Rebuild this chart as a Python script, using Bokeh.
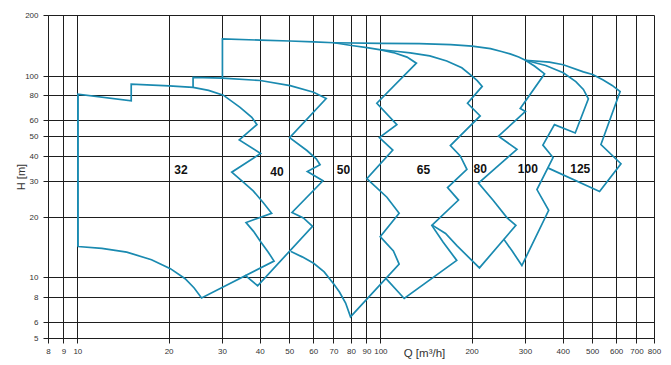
from bokeh.plotting import figure
from bokeh.models import Range1d, FixedTicker, NumeralTickFormatter, Label
from bokeh.core.properties import value
from bokeh.embed import file_html
from bokeh.resources import INLINE

# Axis ticks (log-log chart)
x_ticks = [8, 9, 10, 20, 30, 40, 50, 60, 70, 80, 90, 100, 200, 300, 400, 500, 600, 700, 800]
y_ticks = [5, 6, 8, 10, 20, 30, 40, 50, 60, 80, 100, 200]

# Pump size envelopes: Q [m3/h], H [m]
size_32_q = [10, 10, 15, 15, 20, 24, 27, 30.2, 34.3, 37.5, 39, 34.1, 40.1, 32.2, 35, 37.9, 41, 43.6,
             35.9, 38, 40, 42.5, 44.4, 25.6, 24.2, 22.6, 20.2, 17.5, 14.5, 12, 10]
size_32_h = [14.3, 81.5, 75.5, 91.2, 89.6, 88, 85, 80.5, 70.1, 62.5, 57.5, 48.3, 41.4, 33.4, 30, 27, 23.5, 20.9,
             18.8, 17, 15.2, 13.4, 12.1, 7.95, 8.9, 9.9, 11.1, 12.3, 13.4, 14, 14.3]

size_40_q = [24, 24, 30, 40, 50.2, 60, 66, 50, 57, 61.2, 63, 57.2, 64.4, 50.9, 55.5, 59.5, 39.2, 35.6]
size_40_h = [88, 98.7, 97.8, 95.2, 89.8, 83.2, 77.5, 49.6, 42.8, 38.9, 36.4, 33.7, 30.3, 21.1, 19.8, 18.0, 9.13, 10.3]

size_50_q = [30, 30, 40, 50, 60, 70, 80, 90, 100, 110, 122, 131, 97, 112.9, 98.9, 109.5, 89.9, 104.7, 114.9,
             99.5, 110, 114.9, 79.4, 76.5, 73, 70, 65, 60, 55, 50.5]
size_50_h = [97.6, 153, 151, 149.5, 148, 146.5, 142, 138.5, 135, 131, 124.3, 116, 73.4, 57.5, 49.6, 43, 31.0, 25.1, 20.9,
             16.0, 13.6, 11.7, 6.4, 7.5, 8.5, 9.3, 10.7, 11.8, 12.7, 13.5]

size_65_q = [100, 112, 125, 145, 165, 185, 200, 208, 216, 193.2, 212.7, 169.6, 182.8, 192.3, 166, 180.4, 147.3,
             160.6, 178, 119.4, 103.5]
size_65_h = [135, 133, 130.5, 126, 119, 110, 100, 95, 89, 73.4, 63.5, 45.3, 40.2, 34.5, 28, 24.3, 18.2,
             15.0, 12.2, 7.9, 10.0]

top_q = [70, 100, 134, 170, 200, 230, 250, 267, 285, 300]
top_h = [146.5, 145.5, 145, 143.5, 141, 137, 132.5, 129, 124.5, 120]

size_80_q = [300, 322, 347, 288.4, 300, 244.4, 281.3, 210, 235, 260.6, 279, 211.5, 178.5, 163.5, 147.3]
size_80_h = [120, 112, 102.7, 69.2, 66.9, 50.4, 43.4, 29.5, 24.2, 19.9, 18.2, 11.2, 14.4, 16.6, 18.3]

size_100_q = [300, 350, 400, 440, 466, 484, 438, 374, 342.5, 370, 327.4, 358, 292, 272, 254]
size_100_h = [120, 113, 104, 94, 86, 77.2, 52.3, 57.5, 45.5, 39.5, 27.4, 21.6, 11.5, 13.5, 15.6]

size_125_q = [300, 360, 400, 466, 500, 540, 580, 616, 532.5, 620, 527, 357]
size_125_h = [120, 117.5, 114, 105, 102, 96, 90, 84, 45.8, 36.8, 26.8, 35]

label_text = ["32", "40", "50", "65", "80", "100", "125"]
label_q = [21.9, 45.4, 75.3, 138.3, 212.7, 305.6, 455]
label_h = [34.4, 33.6, 34.4, 34.3, 34.9, 35.0, 35.0]

curve_color = "#1a8ab0"
grid_color = "#1e1e1e"

p = figure(width=671, height=365, x_axis_type="log", y_axis_type="log",
           x_range=Range1d(8, 800), y_range=Range1d(5, 200),
           output_backend="svg", toolbar_location=None,
           min_border_left=48, min_border_right=17, min_border_top=15, min_border_bottom=27)

p.background_fill_color = "white"
p.border_fill_color = "white"
p.outline_line_color = grid_color
p.outline_line_width = 1

for ax, ticks in ((p.xaxis[0], x_ticks), (p.yaxis[0], y_ticks)):
    ax.ticker = FixedTicker(ticks=ticks, minor_ticks=[])
    ax.formatter = NumeralTickFormatter(format="0")
    ax.axis_line_color = grid_color
    ax.major_tick_line_color = grid_color
    ax.major_tick_in = 0
    ax.major_tick_out = 5
    ax.minor_tick_line_color = None
    ax.major_label_text_font = "Liberation Sans"
    ax.major_label_text_font_size = "8px"
    ax.major_label_text_color = "#333333"
    ax.major_label_standoff = 5

p.yaxis.axis_label = "H [m]"
p.yaxis.axis_label_text_font = "Liberation Sans"
p.yaxis.axis_label_text_font_style = "normal"
p.yaxis.axis_label_text_font_size = "11px"
p.yaxis.axis_label_text_color = "#333333"
p.yaxis.axis_label_standoff = -5

p.xgrid.ticker = FixedTicker(ticks=x_ticks, minor_ticks=[])
p.ygrid.ticker = FixedTicker(ticks=y_ticks, minor_ticks=[])
for g in (p.xgrid[0], p.ygrid[0]):
    g.grid_line_color = grid_color
    g.grid_line_width = 1
    g.grid_line_alpha = 1

# Envelope outlines
p.line([10, 10], [14.3, 81.5], line_color=curve_color, line_width=1.7)
for qs, hs in ((size_32_q, size_32_h), (size_40_q, size_40_h), (size_50_q, size_50_h),
               (size_65_q, size_65_h), (top_q, top_h), (size_80_q, size_80_h),
               (size_100_q, size_100_h), (size_125_q, size_125_h)):
    p.line(qs, hs, line_color=curve_color, line_width=1.7, line_join="miter")

p.text(x=label_q, y=label_h, text=label_text, text_font=value("Liberation Sans"),
       text_font_style="bold", text_font_size="12px", text_color="#111111",
       text_align="center", text_baseline="middle")

# Flow axis caption sits in the tick-label row, between 100 and 200.
# Kept in a side panel so it is not clipped to the plot frame.
p.add_layout(Label(x=139.3, y=4.22, text="Q [m³/h]", text_font="Liberation Sans",
                   text_font_size="11.5px", text_color="#333333",
                   text_align="center", text_baseline="middle"), "above")

open("out.html", "w").write(file_html(p, INLINE))
